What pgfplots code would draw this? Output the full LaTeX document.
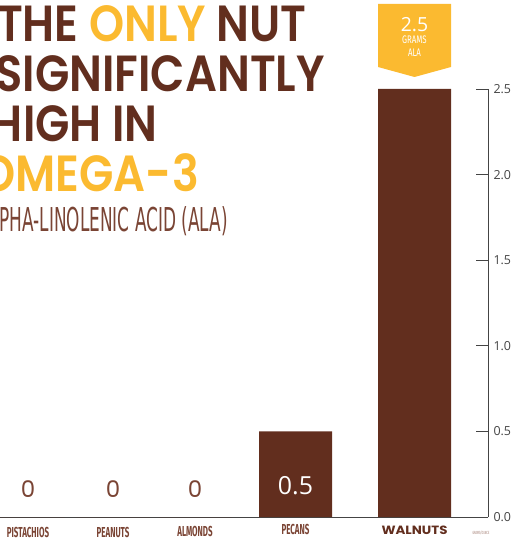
\documentclass[border=0pt]{standalone}
\usepackage{pgfplots}
\pgfplotsset{compat=1.18}
\usepackage{fontspec}
\setmainfont{Open Sans}
\newfontfamily\titlefont[FakeStretch=0.88, BoldFont={Poppins SemiBold}]{Poppins}
\newfontfamily\condfont[FakeStretch=0.55]{Fira Sans}
\newfontfamily\bannerfont[FakeStretch=0.72]{Fira Sans}
\newfontfamily\thinfont[FakeStretch=0.515]{DejaVu Sans}
\newfontfamily\roundfont{Poppins}
\newfontfamily\walnutfont[FakeStretch=1.12]{Poppins}
\definecolor{nutbrown}{HTML}{622E1E}
\definecolor{labelbrown}{HTML}{7A4434}
\definecolor{nutyellow}{HTML}{FBBA30}
\definecolor{axisgray}{HTML}{444444}
\begin{document}
\begin{tikzpicture}
\useasboundingbox (0,0) rectangle (515bp,540bp);
\clip (0,0) rectangle (515bp,540bp);
\begin{axis}[
  at={(0bp,23bp)}, anchor=south west,
  scale only axis, width=488bp, height=428bp,
  xmin=0, xmax=488, ymin=0, ymax=2.5,
  axis x line=bottom, axis y line=right,
  axis line style={-, draw=axisgray, line width=0.8bp},
  xtick={28,113,195,295.5,414.5},
  xticklabels={PISTACHIOS,PEANUTS,\raisebox{1bp}{ALMONDS},\raisebox{2.5bp}{PECANS},{\raisebox{2.5bp}{\walnutfont\bfseries\fontsize{12}{12}\selectfont\color{nutbrown}WALNUTS}}},
  x tick style={draw=none},
  xticklabel style={anchor=base, inner sep=0pt, yshift=-20bp, font=\condfont\bfseries\fontsize{14.5}{14.5}\selectfont, text=labelbrown},
  ytick={0,0.5,1,1.5,2,2.5},
  yticklabel pos=right,
  yticklabel style={/pgf/number format/.cd, fixed, fixed zerofill, precision=1, /tikz/.cd, font=\fontsize{12.5}{12.5}\selectfont, text=axisgray, xshift=2bp},
  /pgf/number format/assume math mode=true,
  tick align=inside,
  major tick length=12bp,
  y tick style={draw=axisgray, line width=0.8bp},
  clip=false,
]
\addplot[ybar, bar width=73, fill=nutbrown, draw=none] coordinates {(28,0) (113,0) (195,0) (295.5,0.5) (414.5,2.5)};
\node[inner sep=0pt, text=labelbrown, font=\roundfont\fontsize{23}{23}\selectfont] at (axis cs:28,0.164) {0};
\node[inner sep=0pt, text=labelbrown, font=\roundfont\fontsize{23}{23}\selectfont] at (axis cs:113,0.164) {0};
\node[inner sep=0pt, text=labelbrown, font=\roundfont\fontsize{23}{23}\selectfont] at (axis cs:195,0.164) {0};
\node[inner sep=0pt, text=white, font=\fontsize{25}{25}\selectfont] at (axis cs:295.5,0.181) {0.5};
\end{axis}
\begin{scope}[x=1bp, y=-1bp, shift={(0bp,540bp)}]
\fill[nutyellow] (378,4) -- (451,4) -- (451,67) -- (414.5,77) -- (378,67) -- cycle;
\node[anchor=base, inner sep=0pt, text=white, font=\fontsize{19.5}{19.5}\selectfont] at (414.5,32) {2.5};
\node[anchor=base, inner sep=0pt, text=white, font=\bannerfont\fontsize{11}{11}\selectfont] at (414.5,44) {GRAMS};
\node[anchor=base, inner sep=0pt, text=white, font=\bannerfont\fontsize{11}{11}\selectfont] at (414.5,57) {ALA};
\node[anchor=base east, inner sep=0pt, text=nutbrown, font=\titlefont\bfseries\fontsize{51}{51}\selectfont] at (307,42) {THE \textcolor{nutyellow}{ONLY} NUT};
\node[anchor=base east, inner sep=0pt, text=nutbrown, font=\titlefont\bfseries\fontsize{51}{51}\selectfont] at (325,92) {SIGNIFICANTLY};
\node[anchor=base east, inner sep=0pt, text=nutbrown, font=\titlefont\bfseries\fontsize{51}{51}\selectfont] at (158,142) {HIGH IN};
\node[anchor=base east, inner sep=0pt, text=nutyellow, font=\titlefont\bfseries\fontsize{51}{51}\selectfont] at (199,192) {OMEGA-3};
\node[anchor=base east, inner sep=0pt, text=labelbrown, font=\thinfont\fontsize{33}{33}\selectfont] at (228,232) {ALPHA-LINOLENIC ACID (ALA)};
\node[anchor=base, inner sep=0pt, text=labelbrown!70, font=\condfont\fontsize{4.5}{4.5}\selectfont] at (481,535) {GRAMS/OUNCE};
\end{scope}
\end{tikzpicture}
\end{document}
